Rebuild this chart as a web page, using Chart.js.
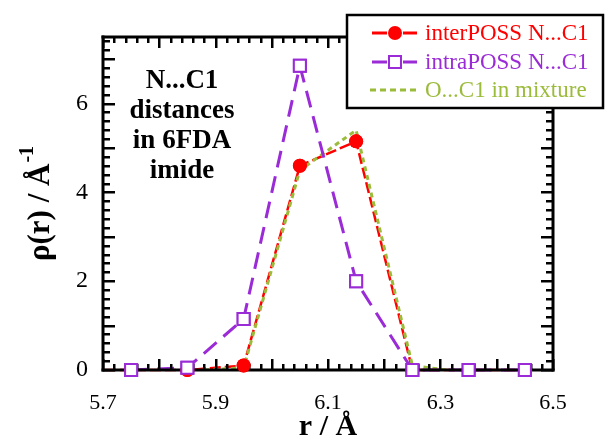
<!DOCTYPE html>
<html>
<head>
<meta charset="utf-8">
<script src="https://cdn.jsdelivr.net/npm/chart.js@4.4.0/dist/chart.umd.min.js"></script>
<style>
  html, body { margin: 0; padding: 0; background: #fff; }
</style>
</head>
<body>
<canvas id="myChart" width="606" height="439"></canvas>
<script>
// data
const interR     = [5.65, 5.75, 5.85, 5.95, 6.05, 6.15, 6.25, 6.35, 6.45];
const interPOSS  = [0, 0, 0, 0.1, 4.6, 5.15, 0, 0, 0];
const intraR     = [5.75, 5.85, 5.95, 6.05, 6.15, 6.25, 6.35, 6.45];
const intraPOSS  = [0, 0.05, 1.15, 6.85, 2.0, 0, 0, 0];
const mixR       = [5.88, 5.95, 6.05, 6.15, 6.25, 6.31];
const mixOC      = [0, 0.05, 4.5, 5.4, 0.1, 0];
const xTicks = [5.7, 5.9, 6.1, 6.3, 6.5];
const yTicks = [0, 2, 4, 6];
const seriesNames = ['interPOSS N...C1', 'intraPOSS N...C1', 'O...C1 in mixture'];
const noteLines = ['N...C1', 'distances', 'in 6FDA', 'imide'];

const RED = '#ff0000';
const PURPLE = '#9a2bd6';
const GREEN = '#9bbb3b';
const SERIF = '"Liberation Serif", "Times New Roman", serif';

const pts = (xs, ys) => xs.map((x, i) => ({x: x, y: ys[i]}));

function seg(c, x1, y1, x2, y2) {
  c.beginPath();
  c.moveTo(x1, y1);
  c.lineTo(x2, y2);
  c.stroke();
}

// frame + inward ticks on all four sides, then markers again on top
const frame = {
  id: 'boxTicks',
  afterDatasetsDraw(chart) {
    const c = chart.ctx;
    const a = chart.chartArea;
    const x = chart.scales.x, y = chart.scales.y;
    c.save();
    c.fillStyle = '#000000';
    for (let i = 0; i <= 40; i++) {
      const px = Math.round(x.getPixelForValue(5.7 + i * 0.02));
      const len = i % 5 === 0 ? 11 : 6;
      c.fillRect(px - 1, a.bottom - len, 2.5, len);
      c.fillRect(px - 1, a.top, 2.5, len);
    }
    for (let i = 0; i <= 37; i++) {
      const py = Math.round(y.getPixelForValue(i * 0.2));
      const len = i % 5 === 0 ? 12 : 7;
      c.fillRect(a.left, py - 1, len, 2.5);
      c.fillRect(a.right - len, py - 1, len, 2.5);
    }
    c.fillRect(a.left - 1.5, a.top - 1.5, a.right - a.left + 3, 3);
    c.fillRect(a.left - 1.5, a.bottom - 1.5, a.right - a.left + 3, 3);
    c.fillRect(a.left - 1.5, a.top - 1.5, 3, a.bottom - a.top + 3);
    c.fillRect(a.right - 1.5, a.top - 1.5, 3, a.bottom - a.top + 3);
    c.restore();
    // markers sit above the axis frame
    [2, 3].forEach(di => {
      chart.getDatasetMeta(di).data.forEach(p => {
        if (p.x >= a.left - 1) p.draw(c, a);
      });
    });
  }
};

// y title with superscript, note text and the legend box
const extras = {
  id: 'extras',
  afterDraw(chart) {
    const c = chart.ctx;
    c.save();

    // y axis title
    c.translate(38, 204);
    c.rotate(-Math.PI / 2);
    c.fillStyle = '#000';
    c.textBaseline = 'alphabetic';
    const main = '\u03c1(r) / \u00c5';
    c.font = 'bold 31px ' + SERIF;
    const w1 = c.measureText(main).width;
    c.font = 'bold 20px ' + SERIF;
    const w2 = c.measureText('-1').width;
    const start = -(w1 + w2) / 2;
    c.font = 'bold 31px ' + SERIF;
    c.textAlign = 'left';
    c.fillText(main, start, 11);
    c.font = 'bold 20px ' + SERIF;
    c.fillText('-1', start + w1 + 1, -5);
    c.restore();
    c.save();

    // note
    c.fillStyle = '#000';
    c.font = 'bold 27px ' + SERIF;
    c.textAlign = 'center';
    c.textBaseline = 'alphabetic';
    noteLines.forEach((t, i) => c.fillText(t, 182, 88 + i * 30));

    // legend
    const bx = 347, by = 15, bw = 256, bh = 93;
    c.fillStyle = '#fff';
    c.fillRect(bx, by, bw, bh);
    c.strokeStyle = '#000';
    c.lineWidth = 2.5;
    c.strokeRect(bx, by, bw, bh);

    const rows = [33, 62, 90];
    const colors = [RED, PURPLE, GREEN];
    c.font = '23px ' + SERIF;
    c.textAlign = 'left';
    c.textBaseline = 'middle';
    rows.forEach((ry, i) => {
      c.strokeStyle = colors[i];
      c.lineWidth = 3;
      if (i < 2) {
        seg(c, 372, ry, 387, ry);
        seg(c, 403, ry, 417, ry);
      } else {
        c.setLineDash([6, 4]);
        seg(c, 370, ry, 418, ry);
        c.setLineDash([]);
      }
      if (i === 0) {
        c.fillStyle = RED;
        c.beginPath();
        c.arc(395, ry, 7, 0, Math.PI * 2);
        c.fill();
      } else if (i === 1) {
        c.lineWidth = 2;
        c.strokeRect(389, ry - 6, 12, 12);
      }
      c.fillStyle = colors[i];
      c.fillText(seriesNames[i], 425, ry + 1);
    });
    c.restore();
  }
};

const ctx = document.getElementById('myChart').getContext('2d');
const myChart = new Chart(ctx, {
  type: 'line',
  data: {
    datasets: [
      {
        label: seriesNames[0],
        data: pts(interR, interPOSS),
        borderColor: RED,
        borderWidth: 2.5,
        borderDash: [11, 4],
        pointRadius: 0,
        clip: {left: 0, top: 10, right: 10, bottom: 10},
        order: 3
      },
      {
        label: seriesNames[2],
        data: pts(mixR, mixOC),
        borderColor: GREEN,
        borderWidth: 3,
        borderDash: [5, 4],
        pointRadius: 0,
        order: 2
      },
      {
        label: seriesNames[0] + ' points',
        data: pts(interR, interPOSS),
        showLine: false,
        pointRadius: 7,
        pointBorderWidth: 0,
        pointBackgroundColor: RED,
        clip: {left: 0, top: 10, right: 10, bottom: 10},
        order: 1
      },
      {
        label: seriesNames[1],
        data: pts(intraR, intraPOSS),
        borderColor: PURPLE,
        borderWidth: 3,
        borderDash: [17, 9],
        pointStyle: 'rect',
        pointRadius: 8.5,
        pointBorderWidth: 2,
        pointBorderColor: PURPLE,
        pointBackgroundColor: '#fff',
        clip: false,
        order: 0
      }
    ]
  },
  options: {
    responsive: false,
    animation: false,
    layout: { padding: { top: 37, right: 53, left: 0, bottom: 0 } },
    plugins: {
      legend: { display: false },
      tooltip: { enabled: false }
    },
    elements: { line: { tension: 0 } },
    scales: {
      x: {
        type: 'linear',
        min: 5.7,
        max: 6.5,
        afterBuildTicks: s => { s.ticks = xTicks.map(v => ({value: v})); },
        afterFit: s => { s.height = 69; },
        grid: { display: false },
        border: { display: false },
        ticks: {
          padding: 12,
          color: '#000',
          font: { family: SERIF, size: 22 },
          callback: v => v.toFixed(1)
        },
        title: {
          display: true,
          text: 'r / \u00c5',
          color: '#000',
          padding: 0,
          font: { family: SERIF, size: 30, weight: 'bold', lineHeight: 0.8 }
        }
      },
      y: {
        min: 0,
        max: 7.5,
        afterBuildTicks: s => { s.ticks = yTicks.map(v => ({value: v})); },
        afterFit: s => { s.width = 103; },
        grid: { display: false },
        border: { display: false },
        ticks: {
          padding: 7,
          color: '#000',
          font: { family: SERIF, size: 24 }
        }
      }
    }
  },
  plugins: [frame, extras]
});
</script>
</body>
</html>
